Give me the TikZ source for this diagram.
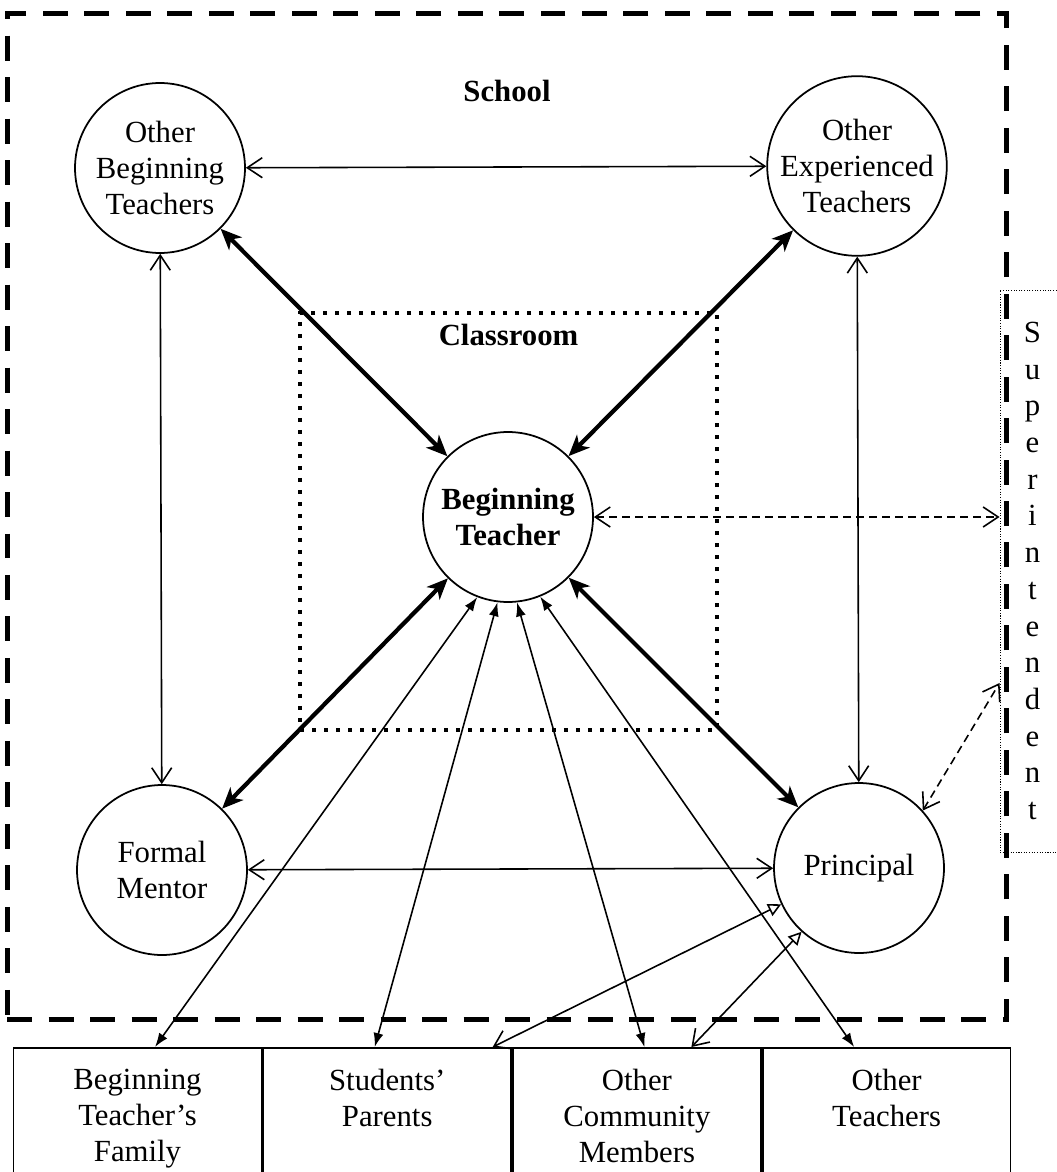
\documentclass[tikz,border=0pt]{standalone}
\usepackage{fontspec}
\setmainfont{Liberation Serif}
\usetikzlibrary{arrows.meta, positioning}

\begin{document}
\begin{tikzpicture}[
    x=0.02cm, y=-0.02cm,
    every node/.style={font=\fontsize{17.5}{20.5}\selectfont},
    who/.style={circle, draw, line width=1pt, minimum size=3.4cm, inner sep=0pt, align=center},
    hub/.style={who, font=\fontsize{17.5}{20.5}\selectfont\bfseries},
    title/.style={font=\fontsize{17.5}{20.5}\selectfont\bfseries, inner sep=0pt},
    bound/.style={draw, line width=2.8pt, dash pattern=on 0.5cm off 0.33cm, minimum width=20cm, minimum height=20.14cm},
    room/.style={draw, line width=2.1pt, dash pattern=on 0.075cm off 0.165cm, minimum size=8.34cm},
    supbox/.style={draw, line width=0.5pt, dash pattern=on 0.6pt off 0.9pt, minimum width=1.3cm, minimum height=11.24cm, align=center, inner sep=0pt, font=\fontsize{17.5}{20.9}\selectfont},
    tbox/.style={draw, line width=1pt, minimum width=4.96cm, minimum height=3cm, inner sep=0pt},
    tlab/.style={anchor=north, align=center, yshift=-0.32cm},
    link/.style={line width=0.9pt},
    tie/.style={link, >={Straight Barb[length=0.3cm,width=0.4cm]}, <->},
    strong/.style={line width=2.4pt, >={Stealth[length=0.42cm,width=0.36cm,inset=0.12cm]}, <->},
    reach/.style={link, >={Latex[length=0.28cm,width=0.2cm]}, <->},
    outreach/.style={link, arrows={Triangle[open,length=0.26cm,width=0.26cm]-Straight Barb[length=0.3cm,width=0.4cm]}},
    soft/.style={tie, dash pattern=on 0.16cm off 0.1cm}
]
\useasboundingbox (0,0) rectangle (1057,1172);

% School and classroom
\node[bound] (school) at (507,516.5) {};
\node[title, below=1.38cm of school.north] {School};
\node[room] (room) at (508.5,521.5) {};
\node[title, below=0.26cm of room.north] {Classroom};

% People
\node[who] (obt) at (160,168) {Other\\Beginning\\Teachers};
\node[who] (oet) at (857,166) {Other\\Experienced\\Teachers};
\node[hub] (bt) at (508,517) {Beginning\\Teacher};
\node[who] (fm) at (162,870) {Formal\\Mentor};
\node[who] (pr) at (859,868) {Principal};

% Superintendent
\node[supbox] (sup) at (1032.5,571) {S\\u\\p\\e\\r\\i\\n\\t\\e\\n\\d\\e\\n\\t};

% Outside the school
\node[tbox, anchor=north, label={[tlab]north:Beginning\\Teacher's\\Family}] (fam) at (137.5,1047) {};
\node[tbox, right=0cm of fam, label={[tlab]north:Students'\\Parents}] (par) {};
\node[tbox, right=0cm of par, label={[tlab]north:Other\\Community\\Members}] (ocm) {};
\node[tbox, right=0cm of ocm, label={[tlab]north:Other\\Teachers}] (oth) {};

\draw[tie] (obt) -- (oet);
\draw[tie] (obt) -- (fm);
\draw[tie] (oet) -- (pr);
\draw[tie] (fm) -- (pr);

\draw[strong] (bt) -- (obt);
\draw[strong] (bt) -- (oet);
\draw[strong] (bt) -- (fm);
\draw[strong] (bt) -- (pr);

\draw[reach] (bt.249) -- ([xshift=0.35cm]fam.north);
\draw[reach] (bt.263) -- ([xshift=-0.25cm]par.north);
\draw[reach] (bt.276) -- ([xshift=0.15cm]ocm.north);
\draw[reach] (bt.292) -- ([xshift=-0.65cm]oth.north);

\draw[outreach] (pr.205) -- ([xshift=2.11cm]par.north);
\draw[outreach] (pr.228) -- ([xshift=1.09cm]ocm.north);

\draw[soft] (bt.east) -- (bt.east -| sup.west);
\draw[soft] (pr.42) -- ([yshift=-2.24cm]sup.west);

\end{tikzpicture}
\end{document}
